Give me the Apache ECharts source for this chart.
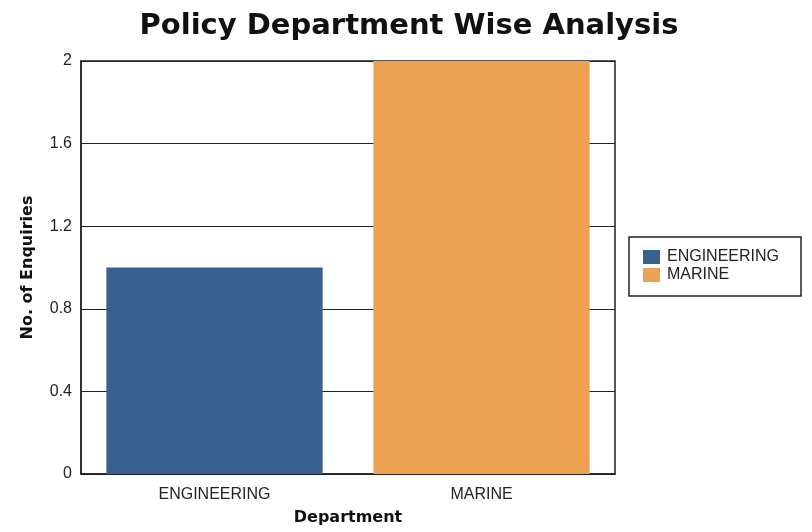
<!DOCTYPE html>
<html>
<head>
<meta charset="utf-8">
<script src="https://cdn.jsdelivr.net/npm/echarts@6/dist/echarts.min.js"></script>
<style>
  html, body { margin: 0; padding: 0; background: #fff; }
  #chart { width: 812px; height: 532px; }
</style>
</head>
<body>
<div id="chart"></div>
<script>
// Enquiry counts per policy department
const categories = ['ENGINEERING', 'MARINE'];
const engineeringValues = [1, null];
const marineValues = [null, 2];
const yTicks = { min: 0, max: 2, interval: 0.4 };

const chart = echarts.init(document.getElementById('chart'));
const font = 'Arial, "Liberation Sans", sans-serif';
const wideBold = '"DejaVu Sans", Verdana, sans-serif';

chart.setOption({
  animation: false,
  backgroundColor: '#ffffff',
  title: {
    text: 'Policy Department Wise Analysis',
    left: 404,
    textAlign: 'center',
    top: 7,
    textStyle: { fontFamily: wideBold, fontSize: 29, fontWeight: 'bold', color: '#111' }
  },
  legend: {
    orient: 'vertical',
    left: 629,
    top: 237,
    padding: [12, 22, 13, 14],
    itemWidth: 17,
    itemHeight: 14,
    itemGap: 2,
    borderColor: '#222',
    borderWidth: 1.5,
    borderRadius: 0,
    textStyle: { fontFamily: font, fontSize: 16, color: '#222', padding: [0, 0, 0, 2] },
    data: [
      { name: 'ENGINEERING', icon: 'rect' },
      { name: 'MARINE', icon: 'rect' }
    ]
  },
  grid: {
    left: 81,
    top: 61,
    width: 534,
    height: 413,
    outerBoundsMode: 'none',
    containLabel: false,
    show: true,
    borderColor: '#222',
    borderWidth: 1.5,
    backgroundColor: 'transparent'
  },
  xAxis: {
    type: 'category',
    data: categories,
    name: 'Department',
    nameLocation: 'middle',
    nameGap: 36,
    nameTextStyle: { fontFamily: wideBold, fontSize: 16, fontWeight: 'bold', color: '#111' },
    axisLine: { show: true, lineStyle: { color: '#222', width: 1.5 } },
    axisTick: { show: false },
    axisLabel: { fontFamily: font, fontSize: 16, color: '#222', margin: 13 }
  },
  yAxis: {
    type: 'value',
    min: yTicks.min,
    max: yTicks.max,
    interval: yTicks.interval,
    name: 'No. of Enquiries',
    nameLocation: 'middle',
    nameGap: 45,
    nameTextStyle: { fontFamily: wideBold, fontSize: 16, fontWeight: 'bold', color: '#111' },
    axisLine: { show: true, lineStyle: { color: '#222', width: 1.5 } },
    axisTick: { show: false },
    splitLine: { show: true, lineStyle: { color: '#222', width: 1.2 } },
    axisLabel: { fontFamily: font, fontSize: 16, color: '#222', margin: 9 }
  },
  series: [
    {
      name: 'ENGINEERING',
      type: 'bar',
      stack: 'dept',
      data: engineeringValues,
      barWidth: '81%',
      itemStyle: { color: '#37618f' }
    },
    {
      name: 'MARINE',
      type: 'bar',
      stack: 'dept',
      data: marineValues,
      barWidth: '81%',
      itemStyle: { color: '#eca250' }
    }
  ]
});
</script>
</body>
</html>
